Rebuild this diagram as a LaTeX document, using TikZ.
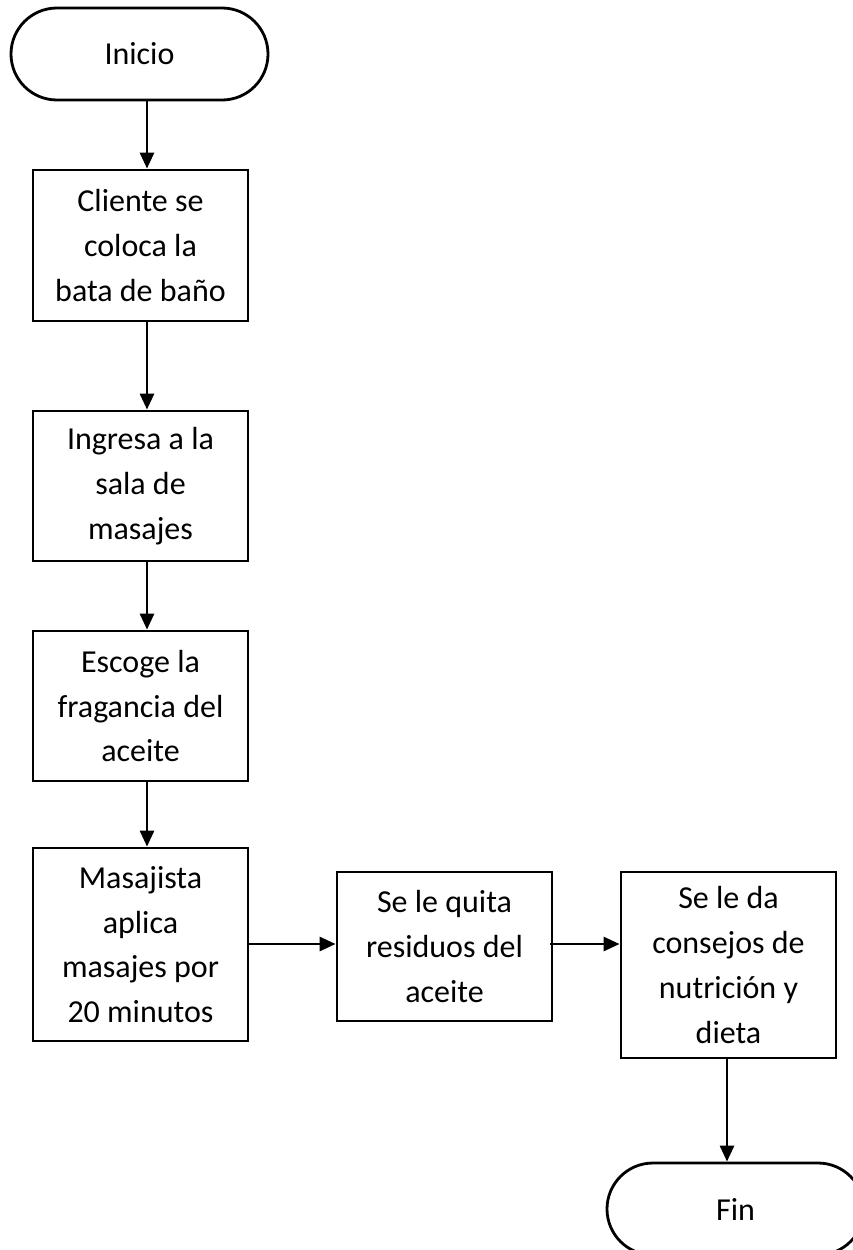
\documentclass[tikz,border=0pt]{standalone}
\usepackage{fontspec}
\setmainfont{Carlito}
\usetikzlibrary{arrows.meta,shapes.misc}
\tikzset{
  proc/.style={draw=black, line width=2.8pt, rectangle, inner sep=0pt, minimum width=215pt, align=center,
    font=\fontsize{32}{44.8}\selectfont},
  term/.style={draw=black, line width=2.8pt, rounded rectangle, inner sep=0pt, minimum width=257pt, minimum height=92pt,
    font=\fontsize{32}{44.8}\selectfont},
  arr/.style={line width=2.8pt, -{Triangle[length=16pt,width=14pt]}}
}
\begin{document}
\begin{tikzpicture}[x=1pt,y=-1pt]
\useasboundingbox (0,0) rectangle (853,1250);
\node[term] (inicio) at (139.5,54) {Inicio};
\node[proc, minimum height=151pt] (b1) at (140.5,245.5) {Cliente se\\coloca la\\bata de baño};
\node[proc, minimum height=150pt] (b2) at (140.5,486) {Ingresa a la\\sala de\\masajes};
\node[proc, minimum height=150pt] (b3) at (140.5,706) {Escoge la\\fragancia del\\aceite};
\node[proc, minimum height=193pt] (b4) at (140.5,944.5) {Masajista\\aplica\\masajes por\\20 minutos};
\node[proc, minimum height=149pt] (b5) at (444.5,946.5) {Se le quita\\residuos del\\aceite};
\node[proc, minimum height=186pt] (b6) at (728.5,965) {Se le da\\consejos de\\nutrición y\\dieta};
\begin{scope}
\clip (0,0) rectangle (853,1250);
\node[term] (fin) at (735.5,1209) {Fin};
\end{scope}
\coordinate (ax) at (147,0);
\coordinate (ay) at (0,944);
\coordinate (fx) at (727,0);
\draw[arr] (inicio.south -| ax) -- (b1.north -| ax);
\draw[arr] (b1.south -| ax) -- (b2.north -| ax);
\draw[arr] (b2.south -| ax) -- (b3.north -| ax);
\draw[arr] (b3.south -| ax) -- (b4.north -| ax);
\draw[arr] (b4.east |- ay) -- (b5.west |- ay);
\draw[arr] ([xshift=-3pt]b5.east |- ay) -- (b6.west |- ay);
\draw[arr] (b6.south -| fx) -- (fin.north -| fx);
\end{tikzpicture}
\end{document}
